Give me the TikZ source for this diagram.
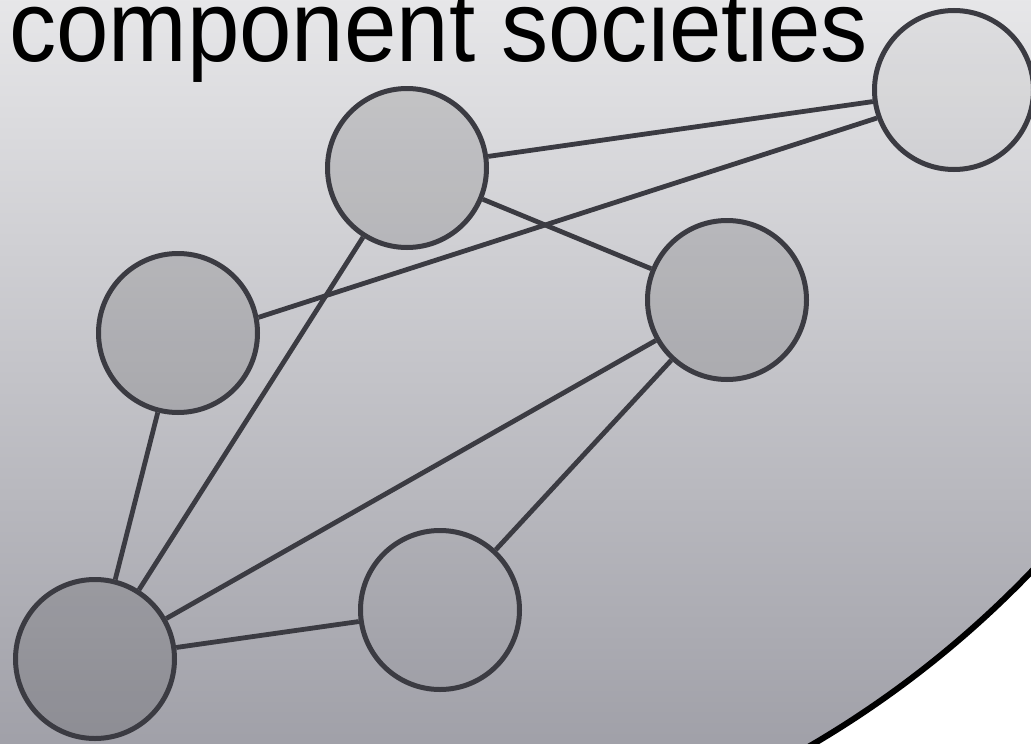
\documentclass[tikz,border=0pt]{standalone}
\usepackage{fontspec}
\setmainfont{Liberation Sans}
\usepackage{graphicx}
\definecolor{edge}{HTML}{3B3B42}
\definecolor{bgtop}{RGB}{231,231,233}
\definecolor{bgmid}{RGB}{201,201,205}
\definecolor{bgbot}{RGB}{160,160,168}
\begin{document}
\begin{tikzpicture}[x=1pt,y=-1pt,
  soc/.style={circle, draw=edge, line width=5pt, minimum size=159pt, inner sep=0pt},
  full/.style={soc, fill=black, fill opacity=0.12},
  hollow/.style={soc, fill=black, fill opacity=0.03},
  link/.style={draw=edge, line width=4.8pt}]
\useasboundingbox (0,0) rectangle (1031,744);
\begin{scope}
  \clip (298,-133) circle (1017pt);
  \shade[top color=bgtop, middle color=bgmid, bottom color=bgbot] (-5,-5) rectangle (1036,749);
\end{scope}
\draw[black, line width=6pt] (298,-133) circle (1017pt);

\node[anchor=base west, inner sep=0pt] (title) at (9,61)
  {\fontsize{101}{101}\selectfont\scalebox{0.933}[1]{component societies}};

\node[full]   (TM) at (407,168) {};
\node[full]   (L)  at (178,333) {};
\node[full]   (R)  at (727,300) {};
\node[hollow] (BM) at (440,610) {};
\node[full]   (BL) at (95,659)  {};
\node[hollow] (TR) at (954,90)  {};

\draw[link] (TM) -- (TR);
\draw[link] (L.11) -- (TR.200);
\draw[link] (TM) -- (R);
\draw[link] (TM) -- (BL);
\draw[link] (L) -- (BL);
\draw[link] (R) -- (BL);
\draw[link] (R) -- (BM);
\draw[link] (BM) -- (BL);
\end{tikzpicture}
\end{document}
